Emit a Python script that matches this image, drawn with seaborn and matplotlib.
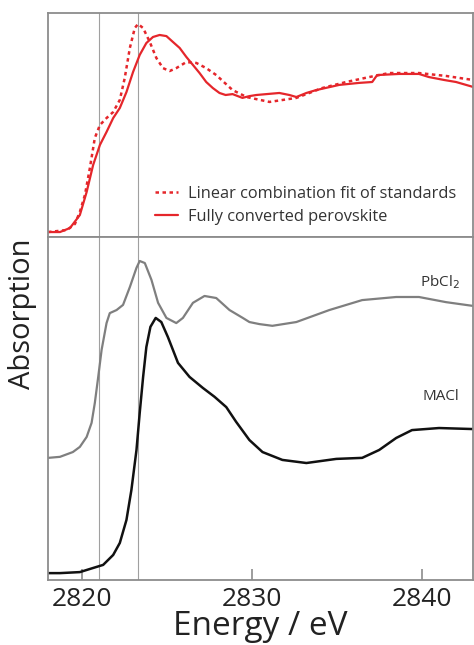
import seaborn as sns
import matplotlib.pyplot as plt

# energies (eV) and normalised absorption
fit_energy = [2818.01, 2819.12, 2819.59, 2819.88, 2820.18, 2820.47, 2820.76, 2821.06, 2821.45,
              2821.84, 2822.23, 2822.52, 2822.82, 2823.11, 2823.30, 2823.60, 2823.99, 2824.38,
              2824.77, 2825.16, 2825.55, 2826.14, 2826.73, 2827.31, 2827.90, 2828.86, 2829.68,
              2831.03, 2832.61, 2834.13, 2835.54, 2836.89, 2838.06, 2839.82, 2841.41, 2843.00]
fit_abs = [0.022, 0.031, 0.058, 0.112, 0.188, 0.308, 0.442, 0.500, 0.531,
           0.558, 0.612, 0.710, 0.844, 0.933, 0.951, 0.933, 0.871, 0.799,
           0.754, 0.741, 0.754, 0.781, 0.777, 0.754, 0.723, 0.656, 0.625,
           0.603, 0.621, 0.665, 0.692, 0.714, 0.732, 0.732, 0.719, 0.701]

pero_energy = [2818.01, 2818.71, 2819.30, 2819.88, 2820.28, 2820.66, 2821.06, 2821.45, 2821.84,
               2822.23, 2822.62, 2823.01, 2823.40, 2823.79, 2824.18, 2824.57, 2824.97, 2825.35,
               2825.75, 2826.14, 2826.53, 2826.92, 2827.31, 2827.70, 2828.09, 2828.45, 2828.86,
               2829.44, 2829.85, 2830.26, 2831.61, 2832.20, 2832.61, 2833.20, 2833.78, 2835.13,
               2836.30, 2837.07, 2837.36, 2838.65, 2839.82, 2840.41, 2841.30, 2842.00, 2843.00]
pero_abs = [0.022, 0.022, 0.040, 0.098, 0.201, 0.321, 0.411, 0.469, 0.531,
            0.576, 0.647, 0.737, 0.813, 0.866, 0.893, 0.902, 0.897, 0.871,
            0.844, 0.804, 0.768, 0.732, 0.692, 0.665, 0.643, 0.634, 0.638,
            0.621, 0.629, 0.634, 0.643, 0.634, 0.625, 0.643, 0.656, 0.679,
            0.688, 0.692, 0.723, 0.728, 0.728, 0.714, 0.701, 0.692, 0.670]

pbcl2_energy = [2818.01, 2818.71, 2819.47, 2819.88, 2820.28, 2820.57, 2820.76, 2820.96, 2821.16,
                2821.45, 2821.64, 2822.04, 2822.42, 2822.82, 2823.21, 2823.40, 2823.70, 2824.09,
                2824.48, 2824.97, 2825.55, 2825.94, 2826.53, 2827.21, 2827.90, 2828.68, 2829.46,
                2829.85, 2830.44, 2831.20, 2832.61, 2834.55, 2836.48, 2838.48, 2839.82, 2841.41,
                2843.00]
pbcl2_abs = [0.356, 0.359, 0.373, 0.388, 0.417, 0.458, 0.516, 0.592, 0.671,
             0.749, 0.778, 0.787, 0.802, 0.854, 0.910, 0.930, 0.924, 0.875,
             0.808, 0.764, 0.749, 0.764, 0.808, 0.828, 0.822, 0.787, 0.764,
             0.752, 0.746, 0.741, 0.752, 0.787, 0.816, 0.825, 0.825, 0.810,
             0.799]

macl_energy = [2818.01, 2818.71, 2819.88, 2820.66, 2821.25, 2821.84, 2822.23, 2822.62, 2822.91,
               2823.21, 2823.40, 2823.60, 2823.79, 2824.03, 2824.34, 2824.67, 2825.06, 2825.65,
               2826.33, 2827.11, 2827.80, 2828.49, 2829.07, 2829.85, 2830.62, 2831.79, 2833.20,
               2834.96, 2836.48, 2837.48, 2838.48, 2839.41, 2841.00, 2843.00]
macl_abs = [0.020, 0.020, 0.023, 0.035, 0.044, 0.073, 0.108, 0.175, 0.262,
            0.379, 0.487, 0.592, 0.679, 0.738, 0.764, 0.752, 0.708, 0.633,
            0.592, 0.560, 0.534, 0.504, 0.461, 0.408, 0.373, 0.350, 0.341,
            0.353, 0.356, 0.379, 0.414, 0.437, 0.443, 0.440]

guide_lines = [2821.0, 2823.3]
xticks = [2820, 2830, 2840]

sns.set_style("white")
plt.rcParams['font.family'] = ['Open Sans', 'DejaVu Sans']
plt.rcParams['lines.solid_joinstyle'] = 'round'
plt.rcParams['lines.dash_joinstyle'] = 'round'

red = '#e5262b'
frame = '#8c8c8c'

fig = plt.figure(figsize=(4.74, 6.45), dpi=100)
ax_top = fig.add_axes([0.101, 0.6326, 0.897, 0.3472])
ax_bot = fig.add_axes([0.101, 0.1008, 0.897, 0.5318])

# top panel: perovskite vs linear combination fit
sns.lineplot(x=fit_energy, y=fit_abs, ax=ax_top, color=red, lw=1.8,
             linestyle=(0, (1.4, 1.4)), label='Linear combination fit of standards')
sns.lineplot(x=pero_energy, y=pero_abs, ax=ax_top, color=red, lw=1.6,
             label='Fully converted perovskite')
ax_top.legend(loc='lower right', bbox_to_anchor=(0.995, -0.012), frameon=False,
              fontsize=11.8, handlelength=1.4, handletextpad=0.6, labelspacing=0.45,
              labelcolor='#333333')

# bottom panel: standards
sns.lineplot(x=pbcl2_energy, y=pbcl2_abs, ax=ax_bot, color='#7f7f7f', lw=1.6)
sns.lineplot(x=macl_energy, y=macl_abs, ax=ax_bot, color='#111111', lw=1.8)
ax_bot.text(2841.06, 0.869, 'PbCl$_2$', ha='center', va='center', fontsize=11, color='#333333')
ax_bot.text(2841.1, 0.534, 'MACl', ha='center', va='center', fontsize=11, color='#333333')

for ax in (ax_top, ax_bot):
    ax.set_xlim(2818, 2843)
    ax.set_ylim(0, 1)
    ax.set_yticks([])
    ax.set_ylabel('')
    for x in guide_lines:
        ax.axvline(x, color='#a0a0a0', lw=0.8, zorder=0)
    for s in ax.spines.values():
        s.set_color(frame)
        s.set_linewidth(1.3)

ax_top.set_xticks([])
ax_bot.set_xticks(xticks)
ax_bot.set_xticklabels([str(t) for t in xticks])
ax_bot.tick_params(axis='x', direction='in', length=8, width=1.2, color=frame,
                   labelsize=19, pad=5, labelcolor='#222222', bottom=True)

fig.text(0.047, 0.513, 'Absorption', rotation=90, ha='center', va='center',
         fontsize=21, color='#222222')
fig.text(0.549, 0.028, 'Energy / eV', ha='center', va='center',
         fontsize=24, color='#222222')

fig.savefig('out.png', dpi=100)
